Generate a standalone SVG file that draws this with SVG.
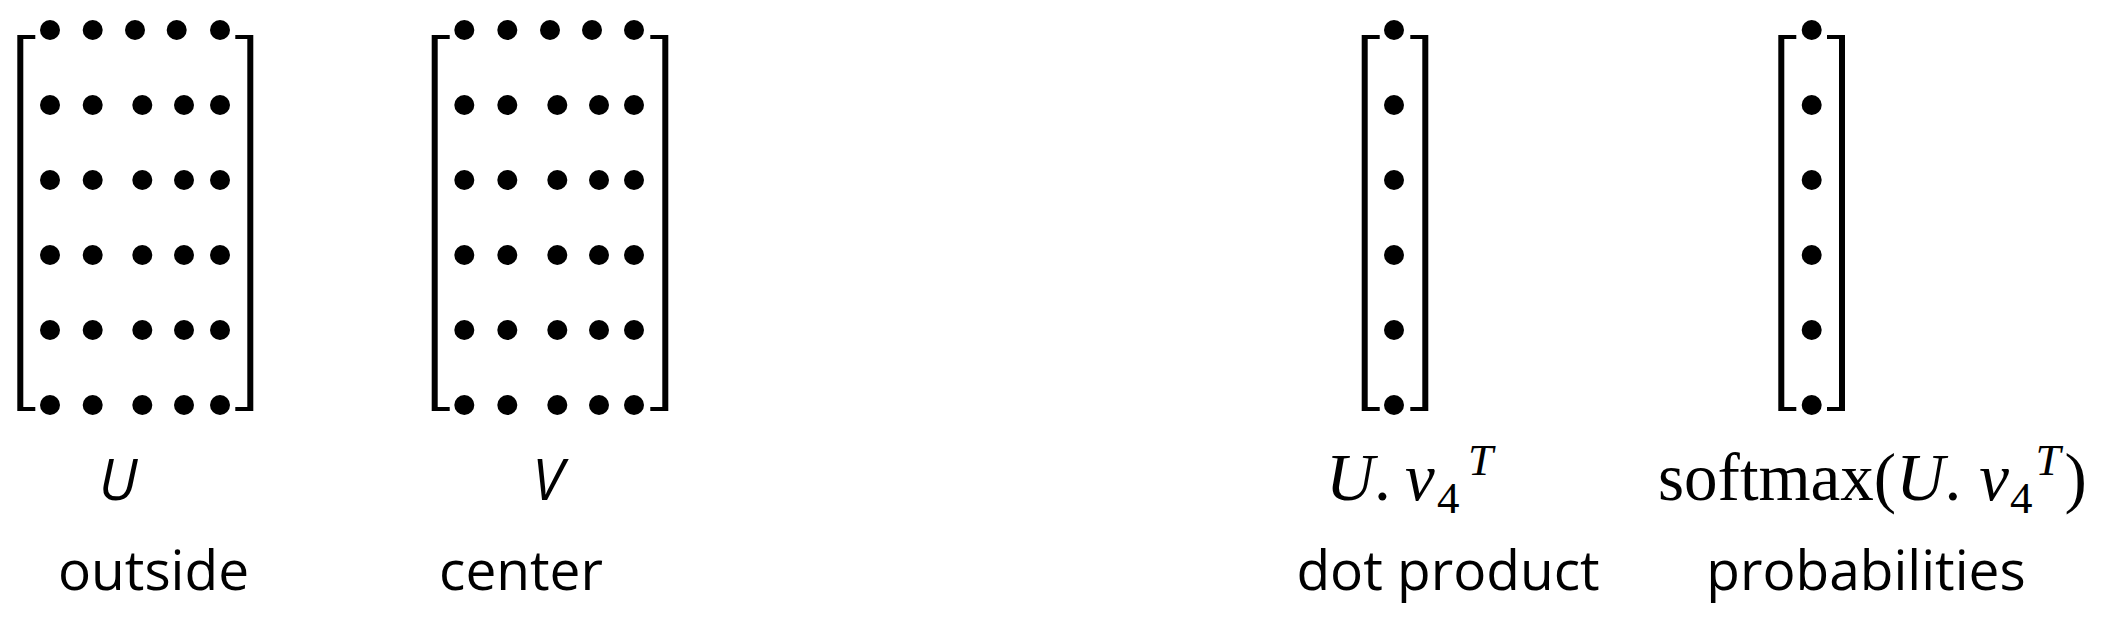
<svg xmlns="http://www.w3.org/2000/svg" xmlns:xlink="http://www.w3.org/1999/xlink" width="2104" height="618" viewBox="0 0 2104 618">
<style>
.bg{fill:#ffffff}
.br{fill:#000000}
.dot{fill:#000000}
.lbl{font-family:'Open Sans','Liberation Sans',sans-serif;font-size:55px;fill:#000000;text-anchor:middle}
.var{font-family:'Open Sans','Liberation Sans',sans-serif;font-size:57px;font-style:italic;fill:#000000;text-anchor:middle}
.math{font-family:'Liberation Serif','DejaVu Serif',serif;font-size:67px;fill:#000000}
.it{font-style:italic}
.sm{font-size:45px}
</style>
<defs>
<path id="brL" d="M0,35 H18 V39 H6 V407 H18 V411 H0 Z"/>
<path id="brR" d="M0,35 H-18 V39 H-6 V407 H-18 V411 H0 Z"/>
<circle id="d" r="10"/>
</defs>
<rect class="bg" x="0" y="0" width="2104" height="618"/>
<g id="connectors"></g>
<g id="matrix-U">
<use href="#brL" class="br" x="17.3" y="0"/>
<use href="#brR" class="br" x="253.3" y="0"/>
<g class="dot">
<use href="#d" x="50" y="30"/><use href="#d" x="92.7" y="30"/><use href="#d" x="135" y="30"/><use href="#d" x="176.7" y="30"/><use href="#d" x="220" y="30"/>
<use href="#d" x="50" y="105"/><use href="#d" x="92.7" y="105"/><use href="#d" x="142.3" y="105"/><use href="#d" x="184" y="105"/><use href="#d" x="220" y="105"/>
<use href="#d" x="50" y="180"/><use href="#d" x="92.7" y="180"/><use href="#d" x="142.3" y="180"/><use href="#d" x="184" y="180"/><use href="#d" x="220" y="180"/>
<use href="#d" x="50" y="255"/><use href="#d" x="92.7" y="255"/><use href="#d" x="142.3" y="255"/><use href="#d" x="184" y="255"/><use href="#d" x="220" y="255"/>
<use href="#d" x="50" y="330"/><use href="#d" x="92.7" y="330"/><use href="#d" x="142.3" y="330"/><use href="#d" x="184" y="330"/><use href="#d" x="220" y="330"/>
<use href="#d" x="50" y="405"/><use href="#d" x="92.7" y="405"/><use href="#d" x="142.3" y="405"/><use href="#d" x="184" y="405"/><use href="#d" x="220" y="405"/>
</g>
<text class="var" x="118" y="500">U</text>
<text class="lbl" x="153.5" y="590">outside</text>
</g>
<g id="matrix-V">
<use href="#brL" class="br" x="431.7" y="0"/>
<use href="#brR" class="br" x="668.3" y="0"/>
<g class="dot">
<use href="#d" x="464.3" y="30"/><use href="#d" x="507.3" y="30"/><use href="#d" x="550" y="30"/><use href="#d" x="592" y="30"/><use href="#d" x="634" y="30"/>
<use href="#d" x="464.3" y="105"/><use href="#d" x="507.3" y="105"/><use href="#d" x="557.3" y="105"/><use href="#d" x="599" y="105"/><use href="#d" x="634" y="105"/>
<use href="#d" x="464.3" y="180"/><use href="#d" x="507.3" y="180"/><use href="#d" x="557.3" y="180"/><use href="#d" x="599" y="180"/><use href="#d" x="634" y="180"/>
<use href="#d" x="464.3" y="255"/><use href="#d" x="507.3" y="255"/><use href="#d" x="557.3" y="255"/><use href="#d" x="599" y="255"/><use href="#d" x="634" y="255"/>
<use href="#d" x="464.3" y="330"/><use href="#d" x="507.3" y="330"/><use href="#d" x="557.3" y="330"/><use href="#d" x="599" y="330"/><use href="#d" x="634" y="330"/>
<use href="#d" x="464.3" y="405"/><use href="#d" x="507.3" y="405"/><use href="#d" x="557.3" y="405"/><use href="#d" x="599" y="405"/><use href="#d" x="634" y="405"/>
</g>
<text class="var" x="548" y="500">V</text>
<text class="lbl" x="521" y="590">center</text>
</g>
<g id="vector-dot-product">
<use href="#brL" class="br" x="1361.7" y="0"/>
<use href="#brR" class="br" x="1428.3" y="0"/>
<g class="dot">
<use href="#d" x="1394" y="30"/><use href="#d" x="1394" y="105"/><use href="#d" x="1394" y="180"/><use href="#d" x="1394" y="255"/><use href="#d" x="1394" y="330"/><use href="#d" x="1394" y="405"/>
</g>
<text class="math" y="500"><tspan class="it" x="1326">U</tspan><tspan x="1374">.</tspan><tspan class="it" x="1405">v</tspan><tspan class="sm" x="1437" dy="13">4</tspan><tspan class="sm it" x="1468" dy="-38">T</tspan></text>
<text class="lbl" x="1448" y="590">dot product</text>
</g>
<g id="vector-probabilities">
<use href="#brL" class="br" x="1778.3" y="0"/>
<use href="#brR" class="br" x="1845" y="0"/>
<g class="dot">
<use href="#d" x="1811.7" y="30"/><use href="#d" x="1811.7" y="105"/><use href="#d" x="1811.7" y="180"/><use href="#d" x="1811.7" y="255"/><use href="#d" x="1811.7" y="330"/><use href="#d" x="1811.7" y="405"/>
</g>
<text class="math" y="500"><tspan x="1658">softmax(</tspan><tspan class="it">U</tspan><tspan>.</tspan><tspan class="it" dx="18">v</tspan><tspan class="sm" dx="1" dy="13">4</tspan><tspan class="sm it" dx="3" dy="-38">T</tspan><tspan dx="4" dy="25">)</tspan></text>
<text class="lbl" x="1866" y="590">probabilities</text>
</g>
</svg>
